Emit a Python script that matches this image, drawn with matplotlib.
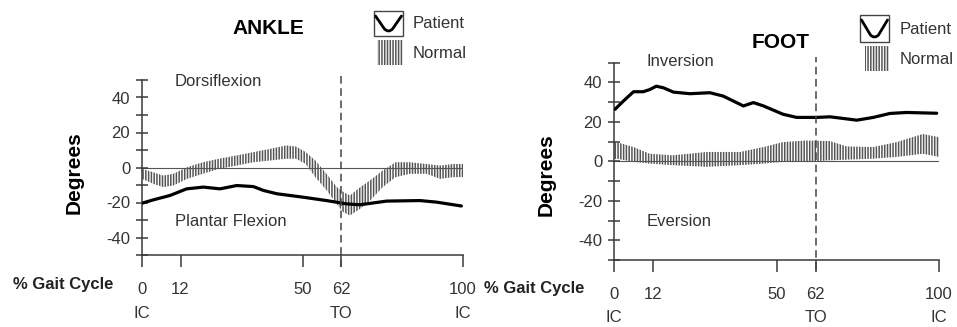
import matplotlib
matplotlib.use("Agg")
import matplotlib.pyplot as plt
from matplotlib.path import Path
from matplotlib.patches import PathPatch, Rectangle
import matplotlib.transforms as mtransforms

plt.rcParams['font.family'] = ['Liberation Sans', 'DejaVu Sans']
plt.rcParams['hatch.linewidth'] = 1.1

# ---------------- data ----------------
ankle_patient_x = [0, 3.5, 8.7, 13.9, 19.1, 24.3, 29.5, 34.7, 37.8, 42, 50.3, 57.5, 63.8, 67.9, 76.2, 86.6, 91.8, 99.5]
ankle_patient_y = [-20.4, -18.5, -16, -12.2, -11.2, -12.2, -10.3, -10.9, -13.1, -15, -17, -18.9, -20.8, -21.3, -19.2, -18.9, -19.8, -22]

ankle_normal_x = [0, 3.5, 6.6, 9.8, 14, 19, 24, 29.5, 34.7, 40, 45, 48, 51, 54, 57.5, 60.6, 62.7, 64.8, 68, 71, 75, 79, 83.5, 88.7, 92.8, 97, 100]
ankle_normal_hi = [-0.8, -2.7, -4.6, -3.6, 0.2, 3, 5, 6.9, 8.8, 10.7, 12.6, 12, 8.8, 4, -3.6, -11, -14, -16, -11.2, -7.4, -1.7, 3, 3, 2, 1.1, 2, 2]
ankle_normal_lo = [-6.5, -9.3, -11.2, -10.3, -6.5, -3.6, -0.8, 1.1, 3, 4, 5, 5, 2, -5.5, -13, -20.8, -25.5, -27.4, -23.6, -19, -11.2, -5.5, -3.6, -3.6, -6.5, -5.5, -5.5]

foot_patient_x = [0.3, 2.9, 6, 9, 11, 13, 15.2, 18.3, 23.4, 29.5, 33.6, 39.8, 42.9, 46, 52, 56.2, 62.4, 66.5, 74.7, 79.8, 84.9, 90, 99.3]
foot_patient_y = [26.3, 30.5, 35.2, 35.2, 36.3, 38, 37.2, 35, 34.2, 34.7, 33, 28, 29.7, 28, 23.8, 22.2, 22.2, 22.5, 20.8, 22.2, 24.2, 24.7, 24.3]

foot_normal_x = [0, 0.8, 6, 11, 18, 28.5, 38.8, 46, 52, 59, 66.5, 71.6, 79.8, 87, 95, 100]
foot_normal_hi = [10, 9.7, 7.2, 3.8, 3, 4.7, 4.7, 7.2, 9.7, 10.5, 10.2, 7.5, 7.2, 9.7, 13.8, 12.2]
foot_normal_lo = [1, 1.3, -0.3, -1.2, -2, -2.8, -2, -1.2, -0.3, -0.3, 0.5, 0.8, 1.3, 2.2, 3.8, 2.2]

x_ticks = [0, 12, 50, 62, 100]
x_tick_labels = ['0', '12', '50', '62', '100']
event_x = [0, 62, 100]
event_labels = ['IC', 'TO', 'IC']
y_major = [-40, -20, 0, 20, 40]
y_minor = [-50, -30, -10, 10, 30, 50]
toe_off = 62

W, H = 957, 327
fig = plt.figure(figsize=(W / 100, H / 100), dpi=100)

AX_COL = '#3a3a3a'
HATCH_COL = '#555555'
FS = 12


def make_panel(rect, px, py, nx, nhi, nlo, dash_top, dash_bot):
    ax = fig.add_axes(rect)
    ax.set_xlim(0, 100)
    ax.set_ylim(-50, 50)
    ax.patch.set_alpha(0)
    for s in ['top', 'right']:
        ax.spines[s].set_visible(False)
    ax.spines['left'].set_bounds(-50, 50)
    ax.spines['bottom'].set_bounds(0, 100)
    for s in ['left', 'bottom']:
        ax.spines[s].set_color(AX_COL)
        ax.spines[s].set_linewidth(1.1)
    ax.set_yticks(y_major)
    ax.set_yticks(y_minor, minor=True)
    ax.set_yticklabels([str(v) for v in y_major], fontsize=FS, color='#333')
    ax.tick_params(axis='y', which='both', direction='inout', length=9, width=1.1, color=AX_COL, pad=4)
    ax.set_xticks(x_ticks)
    ax.set_xticklabels(x_tick_labels, fontsize=FS, color='#333')
    ax.tick_params(axis='x', direction='out', length=8.5, width=1.1, color=AX_COL, pad=11)
    # zero line
    ax.plot([0, 100], [0, 0], color='#555', lw=0.8, zorder=1)
    # normal band (hatched vertical lines)
    ax.fill_between(nx, nlo, nhi, facecolor='none', edgecolor=HATCH_COL,
                    hatch='||||||', linewidth=0, zorder=2)
    # patient line
    ax.plot(px, py, color='black', lw=2.3, zorder=3, solid_capstyle='round')
    # toe-off dashed line
    ax.plot([toe_off, toe_off], [dash_bot, dash_top], color='#444', lw=1.1,
            dashes=(5, 3), clip_on=False, zorder=4)
    tr = mtransforms.blended_transform_factory(ax.transData, fig.transFigure)
    return ax, tr


axL, trL = make_panel([142 / W, 1 - 255 / H, 321 / W, 175 / H],
                      ankle_patient_x, ankle_patient_y,
                      ankle_normal_x, ankle_normal_hi, ankle_normal_lo, 52.5, -57)
axR, trR = make_panel([614 / W, 1 - 260 / H, 325 / W, 197.5 / H],
                      foot_patient_x, foot_patient_y,
                      foot_normal_x, foot_normal_hi, foot_normal_lo, 52.7, -55)

for xv, lab in zip(event_x, event_labels):
    axL.text(xv, 1 - 313 / H, lab, transform=trL, ha='center', va='center', fontsize=FS, color='#333')
    axR.text(xv, 1 - 318 / H, lab, transform=trR, ha='center', va='center', fontsize=FS, color='#333')

# overlay in pixel coords for annotations & legends
ov = fig.add_axes([0, 0, 1, 1])
ov.set_xlim(0, W)
ov.set_ylim(H, 0)
ov.axis('off')
ov.patch.set_alpha(0)

TXT = '#333'
# left panel texts
ov.text(268, 29, 'ANKLE', ha='center', va='center', fontsize=15, fontweight='bold', color='black')
ov.text(175, 81, 'Dorsiflexion', ha='left', va='center', fontsize=FS, color=TXT)
ov.text(175, 222, 'Plantar Flexion', ha='left', va='center', fontsize=FS, color=TXT)
ov.text(74, 173, 'Degrees', ha='center', va='center', rotation=90, fontsize=15, fontweight='bold', color='black')
ov.text(13, 284, '% Gait Cycle', ha='left', va='center', fontsize=12, fontweight='bold', color='#222')
# right panel texts
ov.text(781, 43, 'FOOT', ha='center', va='center', fontsize=15, fontweight='bold', color='black')
ov.text(647, 62, 'Inversion', ha='left', va='center', fontsize=FS, color=TXT)
ov.text(647, 221, 'Eversion', ha='left', va='center', fontsize=FS, color=TXT)
ov.text(546, 175, 'Degrees', ha='center', va='center', rotation=90, fontsize=15, fontweight='bold', color='black')
ov.text(484, 288, '% Gait Cycle', ha='left', va='center', fontsize=12, fontweight='bold', color='#222')


def legend(x0, y0, w, h, hy0, hx0, tx, ty1, ty2):
    ov.add_patch(Rectangle((x0, y0), w, h, facecolor='none', edgecolor='#444', lw=1.0))
    cx = x0 + w / 2
    verts = [(x0 + 1.5, y0 + 5), (cx - 4, y0 + h - 7), (cx, y0 + h - 3), (cx + 4, y0 + h - 7),
             (x0 + w - 1.5, y0 + 5)]
    codes = [Path.MOVETO, Path.LINETO, Path.CURVE3, Path.CURVE3, Path.LINETO]
    ov.add_patch(PathPatch(Path(verts, codes), facecolor='none', edgecolor='black', lw=2.0,
                           capstyle='round', joinstyle='round'))
    ov.add_patch(Rectangle((hx0, hy0), x0 + w - hx0, 25, facecolor='none', edgecolor=HATCH_COL,
                           hatch='||||||', lw=0))
    ov.text(tx, ty1, 'Patient', ha='left', va='center', fontsize=FS, color=TXT)
    ov.text(tx, ty2, 'Normal', ha='left', va='center', fontsize=FS, color=TXT)


legend(374, 11, 29, 25, 40, 377, 413, 24, 53)
legend(860, 15, 29, 27, 46, 865, 900, 29, 59)

fig.savefig('out.png', dpi=100)
